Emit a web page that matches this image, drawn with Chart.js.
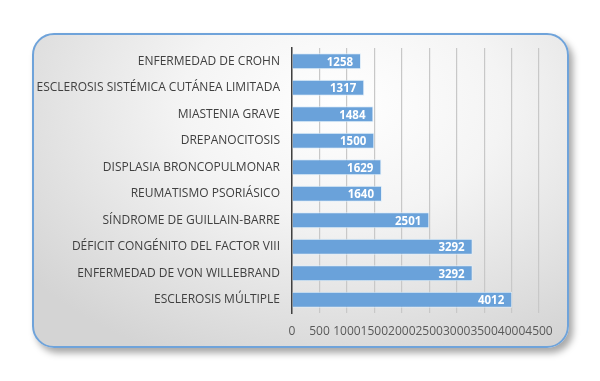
<!DOCTYPE html>
<html><head><meta charset="utf-8">
<script src="https://cdn.jsdelivr.net/npm/chart.js@4/dist/chart.umd.min.js"></script>
<style>
html,body{margin:0;padding:0;background:#fff;width:600px;height:381px;overflow:hidden}
#card{position:absolute;left:32px;top:33px;width:533px;height:311px;border:2px solid #6fa3da;border-radius:22px;
background:radial-gradient(ellipse 75% 90% at 58% 22%, #ffffff 0%, #f4f4f4 40%, #d4d4d4 100%);
box-shadow:4px 5px 7px rgba(0,0,0,0.35);}
#wrap{position:absolute;left:0;top:0;width:600px;height:381px}
</style></head>
<body>
<div id="card"></div>
<div id="wrap"><canvas id="c" width="600" height="381"></canvas></div>
<script>
const categories = [
  "ENFERMEDAD DE CROHN",
  "ESCLEROSIS SISTÉMICA CUTÁNEA LIMITADA",
  "MIASTENIA GRAVE",
  "DREPANOCITOSIS",
  "DISPLASIA BRONCOPULMONAR",
  "REUMATISMO PSORIÁSICO",
  "SÍNDROME DE GUILLAIN-BARRE",
  "DÉFICIT CONGÉNITO DEL FACTOR VIII",
  "ENFERMEDAD DE VON WILLEBRAND",
  "ESCLEROSIS MÚLTIPLE"
];
const values = [1258, 1317, 1484, 1500, 1629, 1640, 2501, 3292, 3292, 4012];
const xTicks = [0, 500, 1000, 1500, 2000, 2500, 3000, 3500, 4000, 4500];

const FONT = "'Open Sans', sans-serif";

const barLabels = {
  id: 'barLabels',
  afterDatasetsDraw(chart) {
    const ctx = chart.ctx;
    const meta = chart.getDatasetMeta(0);
    ctx.save();
    ctx.fillStyle = '#ffffff';
    ctx.font = 'bold 11.5px ' + FONT;
    ctx.textAlign = 'right';
    ctx.textBaseline = 'middle';
    meta.data.forEach((el, i) => {
      ctx.fillText(String(values[i]), el.x - 8, el.y + 1);
    });
    ctx.restore();
  }
};

new Chart(document.getElementById('c'), {
  type: 'bar',
  data: {
    labels: categories,
    datasets: [{
      data: values,
      backgroundColor: 'rgb(106,162,218)',
      borderColor: 'rgba(225,238,250,0.9)',
      borderWidth: 1,
      barPercentage: 0.6,
      categoryPercentage: 1.0
    }]
  },
  options: {
    indexAxis: 'y',
    responsive: false,
    animation: false,
    devicePixelRatio: 1,
    layout: { padding: { left: 20, right: 61, top: 48, bottom: 38 } },
    plugins: { legend: { display: false }, tooltip: { enabled: false } },
    scales: {
      x: {
        min: 0, max: 4500,
        afterBuildTicks(scale) { scale.ticks = xTicks.map(v => ({ value: v })); },
        afterFit(scale) { scale.height = 30; },
        border: { display: false },
        grid: { color: '#c8c8c8', lineWidth: 1.2, drawTicks: false },
        ticks: { padding: 11, color: '#595959', font: { family: FONT, size: 12 }, maxRotation: 0, autoSkip: false,
                 callback: (v) => String(v) }
      },
      y: {
        afterFit(scale) { scale.width = 272; },
        border: { display: true, color: '#404040', width: 1.5 },
        grid: { display: false, drawTicks: false },
        ticks: { padding: 12, color: '#404040', font: { family: FONT, size: 12 }, autoSkip: false }
      }
    }
  },
  plugins: [barLabels]
});
</script>
</body></html>
